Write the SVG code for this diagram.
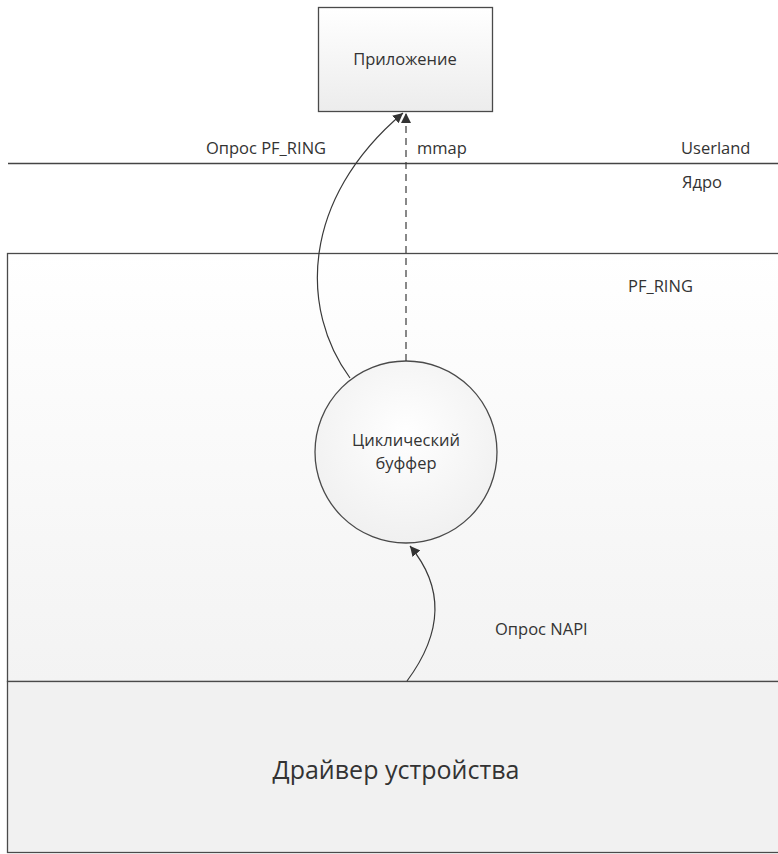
<svg xmlns="http://www.w3.org/2000/svg" width="778" height="854" viewBox="0 0 778 854">
<defs>
<style>
.t{font-family:"Open Sans","Liberation Sans",sans-serif;font-size:16.5px;fill:#333}
.c{text-anchor:middle}
.box{stroke:#4a4a4a;stroke-width:1.3}
.ln{fill:none;stroke:#3a3a3a;stroke-width:1.2}
</style>
<linearGradient id="gApp" x1="0" y1="0" x2="0" y2="1"><stop offset="0" stop-color="#ffffff"/><stop offset="1" stop-color="#ececec"/></linearGradient>
<linearGradient id="gRing" x1="0" y1="0" x2="0" y2="1"><stop offset="0" stop-color="#ffffff"/><stop offset="1" stop-color="#f3f3f3"/></linearGradient>
<radialGradient id="gCirc" cx="0.5" cy="0.4" r="0.6"><stop offset="0" stop-color="#ffffff"/><stop offset="1" stop-color="#f0f0f0"/></radialGradient>
<marker id="ah" viewBox="0 0 10 10" refX="10" refY="5" markerWidth="10" markerHeight="10" markerUnits="userSpaceOnUse" orient="auto"><path d="M0,0 L10,5 L0,10 z" fill="#333"/></marker>
</defs>
<rect width="778" height="854" fill="#ffffff"/>
<g id="pfring">
<rect class="box" x="7.5" y="253.5" width="780" height="428" fill="url(#gRing)"/>
<text class="t" x="628" y="292">PF_RING</text>
</g>
<g id="driver">
<rect class="box" x="7.5" y="681.5" width="780" height="171" fill="#f1f1f1"/>
<text class="t c" x="396" y="779" style="font-size:25px">Драйвер устройства</text>
</g>
<g id="boundary">
<line x1="8" y1="163.5" x2="778" y2="163.5" stroke="#444" stroke-width="1.3"/>
<text class="t" x="681" y="154">Userland</text>
<text class="t" x="682" y="188">Ядро</text>
</g>
<g id="app">
<rect class="box" x="318.5" y="7.5" width="174" height="104" fill="url(#gApp)"/>
<text class="t c" x="405" y="65">Приложение</text>
</g>
<g id="buffer">
<circle class="box" cx="406" cy="452" r="91" fill="url(#gCirc)"/>
<text class="t c" x="406" y="446">Циклический</text>
<text class="t c" x="406" y="469">буффер</text>
</g>
<g id="connectors">
<path class="ln" d="M350,378 C300,310 300,200 403,113" marker-end="url(#ah)"/>
<text class="t c" x="266" y="154">Опрос PF_RING</text>
<path class="ln" d="M406,361 L406,113" stroke-dasharray="7,5" marker-end="url(#ah)"/>
<text class="t" x="417" y="154">mmap</text>
<path class="ln" d="M407,681 C430,650 455,600 410,546" marker-end="url(#ah)"/>
<text class="t" x="495" y="635">Опрос NAPI</text>
</g>
</svg>
